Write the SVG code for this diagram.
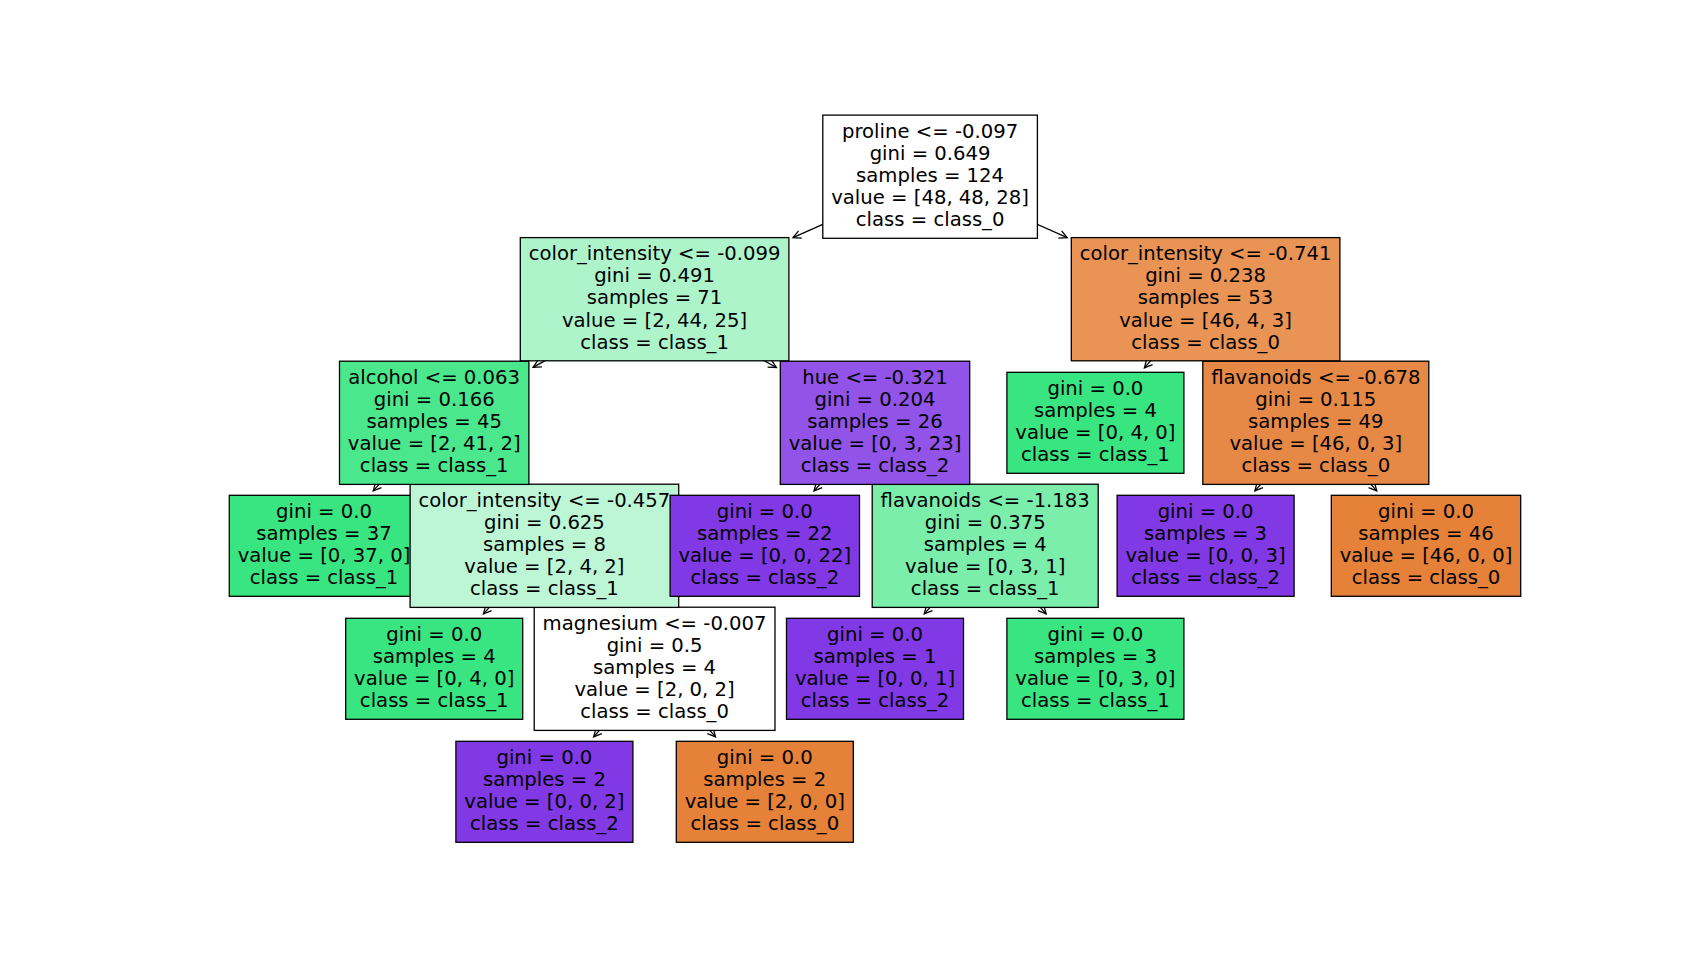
<svg xmlns="http://www.w3.org/2000/svg" width="1706" height="958" viewBox="0 0 1706 958">
  <style>
    .box { stroke: #000; stroke-width: 1.3; }
    .t { font-family: "DejaVu Sans", "Liberation Sans", sans-serif; font-size: 19.64px; text-anchor: middle; fill: #000; }
    .edge { stroke: #000; stroke-width: 1.3; fill: none; marker-start: url(#head); }
    .c0 { fill: #e58139; }
    .c1 { fill: #39e581; }
    .c2 { fill: #8139e5; }
    .w { fill: #ffffff; }
  </style>
  <defs>
    <!-- open "V" head placed at the child end of each edge -->
    <marker id="head" markerUnits="userSpaceOnUse" viewBox="-2 -6 12 12" refX="0" refY="0" markerWidth="12" markerHeight="12" orient="auto" overflow="visible">
      <path d="M7.86,-3.93 L0,0 L7.86,3.93" fill="none" stroke="#000" stroke-width="1.3"/>
    </marker>
  </defs>
  <rect width="1706" height="958" fill="#ffffff"/>

  <!-- edges: from just outside the child box towards the parent centre (parent box hides the rest) -->
  <g id="connectors">
    <line class="edge" x1="793.0" y1="237.65" x2="930.1" y2="176.7"/>
    <line class="edge" x1="1067.2" y1="237.65" x2="930.1" y2="176.7"/>
    <line class="edge" x1="533.1" y1="367.33" x2="654.6" y2="299.2"/>
    <line class="edge" x1="776.4" y1="367.5" x2="654.6" y2="299.2"/>
    <line class="edge" x1="1144.4" y1="367.82" x2="1205.6" y2="299.2"/>
    <line class="edge" x1="373.25" y1="490.83" x2="434.2" y2="422.8"/>
    <line class="edge" x1="814.05" y1="490.83" x2="875" y2="422.8"/>
    <line class="edge" x1="1254.85" y1="490.83" x2="1315.8" y2="422.8"/>
    <line class="edge" x1="1376.75" y1="490.83" x2="1315.8" y2="422.8"/>
    <line class="edge" x1="483.45" y1="613.83" x2="544.4" y2="545.8"/>
    <line class="edge" x1="924.25" y1="613.83" x2="985.2" y2="545.8"/>
    <line class="edge" x1="1046.15" y1="613.83" x2="985.2" y2="545.8"/>
    <line class="edge" x1="593.65" y1="736.83" x2="654.6" y2="668.8"/>
    <line class="edge" x1="715.55" y1="736.83" x2="654.6" y2="668.8"/>
  </g>

  <!-- nodes, deepest level first so shallower boxes sit on top -->
  <g id="node17">
    <rect class="box c2" x="455.9" y="741.3" width="177" height="101"/>
    <text class="t" x="544.4" y="763.7"><tspan x="544.4">gini = 0.0</tspan><tspan x="544.4" dy="22.2">samples = 2</tspan><tspan x="544.4" dy="22.2">value = [0, 0, 2]</tspan><tspan x="544.4" dy="22.2">class = class_2</tspan></text>
  </g>
  <g id="node18">
    <rect class="box c0" x="676.3" y="741.3" width="177" height="101"/>
    <text class="t" x="764.8" y="763.7"><tspan x="764.8">gini = 0.0</tspan><tspan x="764.8" dy="22.2">samples = 2</tspan><tspan x="764.8" dy="22.2">value = [2, 0, 0]</tspan><tspan x="764.8" dy="22.2">class = class_0</tspan></text>
  </g>

  <g id="node13">
    <rect class="box c1" x="345.7" y="618.3" width="177" height="101"/>
    <text class="t" x="434.2" y="640.7"><tspan x="434.2">gini = 0.0</tspan><tspan x="434.2" dy="22.2">samples = 4</tspan><tspan x="434.2" dy="22.2">value = [0, 4, 0]</tspan><tspan x="434.2" dy="22.2">class = class_1</tspan></text>
  </g>
  <g id="node14">
    <rect class="box w" x="534.2" y="607.2" width="240.8" height="123.2"/>
    <text class="t" x="654.6" y="629.6"><tspan x="654.6">magnesium &lt;= -0.007</tspan><tspan x="654.6" dy="22.2">gini = 0.5</tspan><tspan x="654.6" dy="22.2">samples = 4</tspan><tspan x="654.6" dy="22.2">value = [2, 0, 2]</tspan><tspan x="654.6" dy="22.2">class = class_0</tspan></text>
  </g>
  <g id="node15">
    <rect class="box c2" x="786.5" y="618.3" width="177" height="101"/>
    <text class="t" x="875" y="640.7"><tspan x="875">gini = 0.0</tspan><tspan x="875" dy="22.2">samples = 1</tspan><tspan x="875" dy="22.2">value = [0, 0, 1]</tspan><tspan x="875" dy="22.2">class = class_2</tspan></text>
  </g>
  <g id="node16">
    <rect class="box c1" x="1006.9" y="618.3" width="177" height="101"/>
    <text class="t" x="1095.4" y="640.7"><tspan x="1095.4">gini = 0.0</tspan><tspan x="1095.4" dy="22.2">samples = 3</tspan><tspan x="1095.4" dy="22.2">value = [0, 3, 0]</tspan><tspan x="1095.4" dy="22.2">class = class_1</tspan></text>
  </g>

  <g id="node7">
    <rect class="box c1" x="229.3" y="495.3" width="189.4" height="101"/>
    <text class="t" x="324" y="517.7"><tspan x="324">gini = 0.0</tspan><tspan x="324" dy="22.2">samples = 37</tspan><tspan x="324" dy="22.2">value = [0, 37, 0]</tspan><tspan x="324" dy="22.2">class = class_1</tspan></text>
  </g>
  <g id="node8">
    <rect class="box" fill="#bdf6d5" x="410.1" y="484.2" width="268.6" height="123.2"/>
    <text class="t" x="544.4" y="506.6"><tspan x="544.4">color_intensity &lt;= -0.457</tspan><tspan x="544.4" dy="22.2">gini = 0.625</tspan><tspan x="544.4" dy="22.2">samples = 8</tspan><tspan x="544.4" dy="22.2">value = [2, 4, 2]</tspan><tspan x="544.4" dy="22.2">class = class_1</tspan></text>
  </g>
  <g id="node9">
    <rect class="box c2" x="670.1" y="495.3" width="189.4" height="101"/>
    <text class="t" x="764.8" y="517.7"><tspan x="764.8">gini = 0.0</tspan><tspan x="764.8" dy="22.2">samples = 22</tspan><tspan x="764.8" dy="22.2">value = [0, 0, 22]</tspan><tspan x="764.8" dy="22.2">class = class_2</tspan></text>
  </g>
  <g id="node10">
    <rect class="box" fill="#7beeab" x="872.2" y="484.2" width="226" height="123.2"/>
    <text class="t" x="985.2" y="506.6"><tspan x="985.2">flavanoids &lt;= -1.183</tspan><tspan x="985.2" dy="22.2">gini = 0.375</tspan><tspan x="985.2" dy="22.2">samples = 4</tspan><tspan x="985.2" dy="22.2">value = [0, 3, 1]</tspan><tspan x="985.2" dy="22.2">class = class_1</tspan></text>
  </g>
  <g id="node11">
    <rect class="box c2" x="1117.1" y="495.3" width="177" height="101"/>
    <text class="t" x="1205.6" y="517.7"><tspan x="1205.6">gini = 0.0</tspan><tspan x="1205.6" dy="22.2">samples = 3</tspan><tspan x="1205.6" dy="22.2">value = [0, 0, 3]</tspan><tspan x="1205.6" dy="22.2">class = class_2</tspan></text>
  </g>
  <g id="node12">
    <rect class="box c0" x="1331.3" y="495.3" width="189.4" height="101"/>
    <text class="t" x="1426" y="517.7"><tspan x="1426">gini = 0.0</tspan><tspan x="1426" dy="22.2">samples = 46</tspan><tspan x="1426" dy="22.2">value = [46, 0, 0]</tspan><tspan x="1426" dy="22.2">class = class_0</tspan></text>
  </g>

  <g id="node3">
    <rect class="box" fill="#4be78d" x="339.5" y="361.2" width="189.4" height="123.2"/>
    <text class="t" x="434.2" y="383.6"><tspan x="434.2">alcohol &lt;= 0.063</tspan><tspan x="434.2" dy="22.2">gini = 0.166</tspan><tspan x="434.2" dy="22.2">samples = 45</tspan><tspan x="434.2" dy="22.2">value = [2, 41, 2]</tspan><tspan x="434.2" dy="22.2">class = class_1</tspan></text>
  </g>
  <g id="node4">
    <rect class="box" fill="#9153e8" x="780.3" y="361.2" width="189.4" height="123.2"/>
    <text class="t" x="875" y="383.6"><tspan x="875">hue &lt;= -0.321</tspan><tspan x="875" dy="22.2">gini = 0.204</tspan><tspan x="875" dy="22.2">samples = 26</tspan><tspan x="875" dy="22.2">value = [0, 3, 23]</tspan><tspan x="875" dy="22.2">class = class_2</tspan></text>
  </g>
  <g id="node5">
    <rect class="box c1" x="1006.9" y="372.3" width="177" height="101"/>
    <text class="t" x="1095.4" y="394.7"><tspan x="1095.4">gini = 0.0</tspan><tspan x="1095.4" dy="22.2">samples = 4</tspan><tspan x="1095.4" dy="22.2">value = [0, 4, 0]</tspan><tspan x="1095.4" dy="22.2">class = class_1</tspan></text>
  </g>
  <g id="node6">
    <rect class="box" fill="#e78946" x="1202.8" y="361.2" width="226" height="123.2"/>
    <text class="t" x="1315.8" y="383.6"><tspan x="1315.8">flavanoids &lt;= -0.678</tspan><tspan x="1315.8" dy="22.2">gini = 0.115</tspan><tspan x="1315.8" dy="22.2">samples = 49</tspan><tspan x="1315.8" dy="22.2">value = [46, 0, 3]</tspan><tspan x="1315.8" dy="22.2">class = class_0</tspan></text>
  </g>

  <g id="node1">
    <rect class="box" fill="#adf4cb" x="520.3" y="237.6" width="268.6" height="123.2"/>
    <text class="t" x="654.6" y="260"><tspan x="654.6">color_intensity &lt;= -0.099</tspan><tspan x="654.6" dy="22.2">gini = 0.491</tspan><tspan x="654.6" dy="22.2">samples = 71</tspan><tspan x="654.6" dy="22.2">value = [2, 44, 25]</tspan><tspan x="654.6" dy="22.2">class = class_1</tspan></text>
  </g>
  <g id="node2">
    <rect class="box" fill="#e99355" x="1071.3" y="237.6" width="268.6" height="123.2"/>
    <text class="t" x="1205.6" y="260"><tspan x="1205.6">color_intensity &lt;= -0.741</tspan><tspan x="1205.6" dy="22.2">gini = 0.238</tspan><tspan x="1205.6" dy="22.2">samples = 53</tspan><tspan x="1205.6" dy="22.2">value = [46, 4, 3]</tspan><tspan x="1205.6" dy="22.2">class = class_0</tspan></text>
  </g>

  <g id="node0">
    <rect class="box w" x="822.8" y="115.1" width="214.6" height="123.2"/>
    <text class="t" x="930.1" y="137.5"><tspan x="930.1">proline &lt;= -0.097</tspan><tspan x="930.1" dy="22.2">gini = 0.649</tspan><tspan x="930.1" dy="22.2">samples = 124</tspan><tspan x="930.1" dy="22.2">value = [48, 48, 28]</tspan><tspan x="930.1" dy="22.2">class = class_0</tspan></text>
  </g>
</svg>
